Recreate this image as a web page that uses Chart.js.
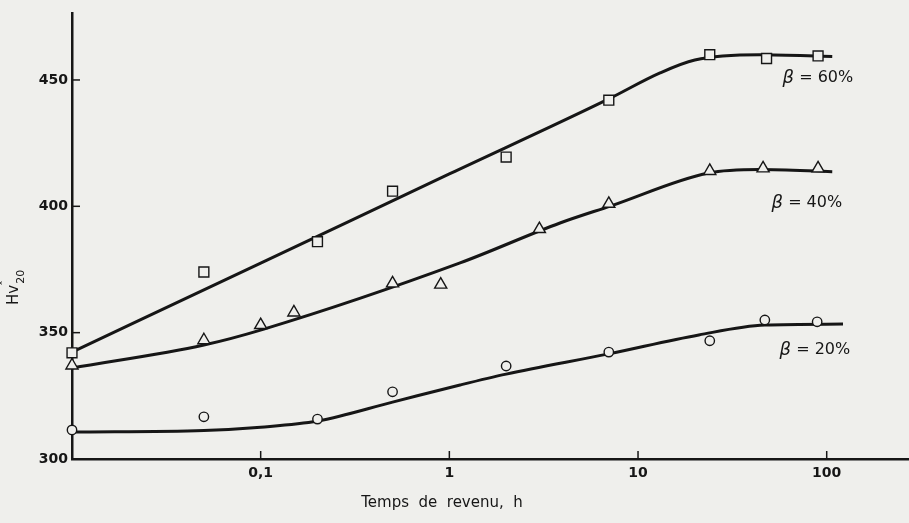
<!DOCTYPE html>
<html>
<head>
<meta charset="utf-8">
<script src="https://cdn.jsdelivr.net/npm/chart.js@4.4.0/dist/chart.umd.min.js"></script>
<style>
  body { margin: 0; background: #efefec; }
  canvas { display: block; }
</style>
</head>
<body>
<canvas id="chart" width="909" height="523"></canvas>
<script>
// measured points (temps de revenu in h, Hv20)
const times60 = [0.01, 0.05, 0.2, 0.5, 2, 7, 24, 48, 90];
const hv60    = [342, 374, 386, 406, 419.5, 442, 460, 458.5, 459.5];
const times40 = [0.01, 0.05, 0.1, 0.15, 0.5, 0.9, 3, 7, 24, 46, 90];
const hv40    = [337, 347, 353, 358, 369.5, 369, 391, 401, 414, 415, 415];
const times20 = [0.01, 0.05, 0.2, 0.5, 2, 7, 24, 47, 89];
const hv20    = [311.5, 316.7, 315.8, 326.6, 336.8, 342.3, 346.8, 355, 354.3];

// fitted curves
const curveT60 = [0.01, 0.1, 1, 7, 13, 20, 44, 107];
const curve60  = [342.3, 377.5, 412.8, 442.5, 452.7, 457.9, 460, 459.3];
const curveT40 = [0.01, 0.05, 0.104, 1.14, 3.86, 7.2, 23.6, 44, 107];
const curve40  = [336, 345.1, 351.4, 377.6, 393.4, 400.2, 413.2, 414.6, 413.7];
const curveT20 = [0.01, 0.05, 0.1, 0.2, 0.5, 1.14, 2, 7, 21, 47, 122];
const curve20  = [310.7, 311.3, 312.6, 315, 322.5, 329.3, 333.6, 341.6, 349.1, 353, 353.4];

const xTicks = [0.1, 1, 10, 100];
const xTickLabels = ['0,1', '1', '10', '100'];
const yTicks = [300, 350, 400, 450];

// curve labels: text + anchor in data units
const curveLabels = ['60%', '40%', '20%'];
const labelT = [89.8, 78.5, 86.6];
const labelHv = [450.8, 401.3, 343.1];

const ink = '#161616';
const pts = (xs, ys) => xs.map((x, i) => ({ x: x, y: ys[i] }));

function markers(xs, ys, style, r) {
  return {
    data: pts(xs, ys),
    showLine: false,
    pointStyle: style,
    pointRadius: r,
    pointBorderWidth: 1.4,
    pointBorderColor: ink,
    pointBackgroundColor: '#efefec',
    clip: false,
    order: 0
  };
}
function curve(xs, ys) {
  return {
    data: pts(xs, ys),
    borderColor: ink,
    borderWidth: 3,
    pointRadius: 0,
    cubicInterpolationMode: 'monotone',
    clip: false,
    order: 1
  };
}

const decor = {
  id: 'decor',
  beforeDraw(chart) {
    const c = chart.ctx;
    c.save();
    c.fillStyle = '#efefec';
    c.fillRect(0, 0, chart.width, chart.height);
    c.restore();
  },
  afterDraw(chart) {
    const c = chart.ctx;
    const xs = chart.scales.x, ys = chart.scales.y;
    const a = chart.chartArea;
    c.save();
    c.strokeStyle = ink;
    c.lineWidth = 1.5;
    // inner tick marks
    xTicks.forEach(v => {
      const px = xs.getPixelForValue(v);
      c.beginPath(); c.moveTo(px, a.bottom); c.lineTo(px, a.bottom - 8); c.stroke();
    });
    yTicks.slice(1).forEach(v => {
      const py = ys.getPixelForValue(v);
      c.beginPath(); c.moveTo(a.left, py); c.lineTo(a.left + 8, py); c.stroke();
    });

    c.fillStyle = ink;
    // curve labels
    c.textBaseline = 'middle';
    curveLabels.forEach((t, i) => {
      const px = xs.getPixelForValue(labelT[i]);
      const py = ys.getPixelForValue(labelHv[i]);
      c.font = 'italic 18px "DejaVu Sans"';
      const bw = c.measureText('\u03B2').width;
      c.font = '16px "DejaVu Sans"';
      const rest = ' = ' + t;
      const rw = c.measureText(rest).width;
      const x0 = px - (bw + rw) / 2;
      c.font = 'italic 18px "DejaVu Sans"';
      c.textAlign = 'left';
      c.fillText('\u03B2', x0, py);
      c.font = '16px "DejaVu Sans"';
      c.fillText(rest, x0 + bw, py);
    });

    // x axis title
    c.font = '15px "DejaVu Sans"';
    c.textAlign = 'center';
    c.fillText('Temps  de  revenu,  h', 442, 503);

    // y axis title, rotated
    c.translate(18, 305);
    c.rotate(-Math.PI / 2);
    c.textAlign = 'left';
    c.textBaseline = 'alphabetic';
    c.font = '15px "DejaVu Sans"';
    c.fillText('Hv', 0, 0);
    const w = c.measureText('Hv').width;
    c.font = '11px "DejaVu Sans"';
    c.fillText('20', w + 1, 6);
    c.fillText('\u02C6', w - 1, -9);
    c.restore();
  }
};

const data = {
  datasets: [
    markers(times60, hv60, 'rect', 7),
    markers(times40, hv40, 'triangle', 7),
    markers(times20, hv20, 'circle', 4.7),
    curve(curveT60, curve60),
    curve(curveT40, curve40),
    curve(curveT20, curve20)
  ]
};

const config = {
  type: 'line',
  data: data,
  options: {
    responsive: false,
    animation: false,
    devicePixelRatio: 1,
    layout: { autoPadding: false, padding: { top: 13, right: 0, left: 0, bottom: 0 } },
    plugins: {
      legend: { display: false },
      tooltip: { enabled: false }
    },
    scales: {
      x: {
        type: 'logarithmic',
        min: 0.01,
        max: 273,
        grid: { display: false, drawTicks: false },
        border: { display: true, color: ink, width: 2.5 },
        afterBuildTicks: s => { s.ticks = xTicks.map(v => ({ value: v })); },
        afterFit: s => { s.height = 64; },
        ticks: {
          color: ink,
          padding: 6,
          autoSkip: false,
          maxRotation: 0,
          font: { family: 'DejaVu Sans', size: 14, weight: 'bold' },
          callback: (v) => {
            const i = xTicks.indexOf(v);
            return i >= 0 ? xTickLabels[i] : '';
          }
        }
      },
      y: {
        type: 'linear',
        min: 300,
        max: 476.5,
        grid: { display: false, drawTicks: false },
        border: { display: true, color: ink, width: 2.5 },
        afterBuildTicks: s => { s.ticks = yTicks.map(v => ({ value: v })); },
        afterFit: s => { s.width = 72; },
        ticks: {
          color: ink,
          padding: 4,
          font: { family: 'DejaVu Sans', size: 14, weight: 'bold' }
        }
      }
    }
  },
  plugins: [decor]
};

const ctx = document.getElementById('chart').getContext('2d');
const chart = new Chart(ctx, config);
</script>
</body>
</html>
